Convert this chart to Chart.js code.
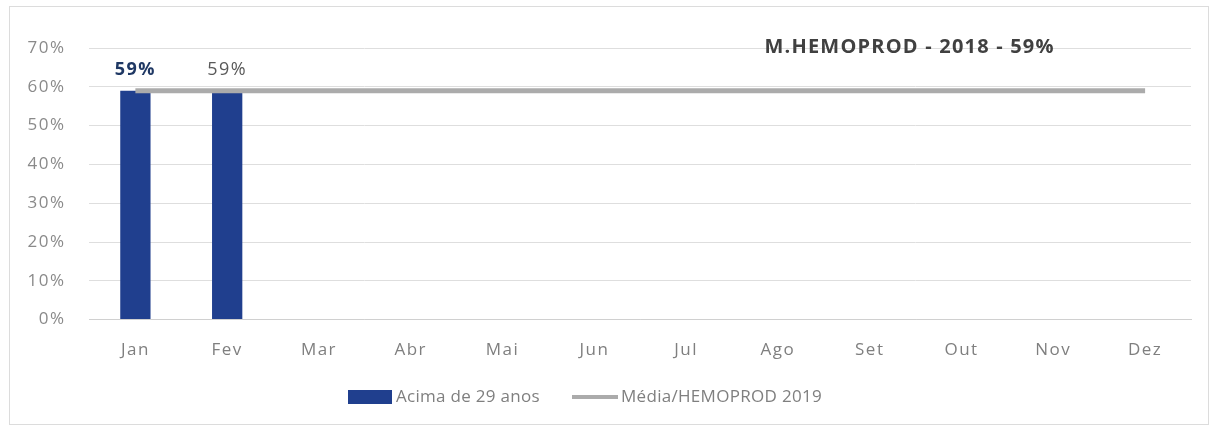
<!DOCTYPE html>
<html>
<head>
<meta charset="utf-8">
<script src="https://cdn.jsdelivr.net/npm/chart.js@4.4.0/dist/chart.umd.min.js"></script>
<style>
  html, body { margin: 0; padding: 0; background: #fff; }
  #wrap { width: 1217px; height: 430px; }
</style>
</head>
<body>
<div id="wrap"><canvas id="myChart" width="1217" height="430"></canvas></div>
<script>
const months = ["Jan", "Fev", "Mar", "Abr", "Mai", "Jun", "Jul", "Ago", "Set", "Out", "Nov", "Dez"]
const acima29 = [59, 59, null, null, null, null, null, null, null, null, null, null]
const media2019 = [59, 59, 59, 59, 59, 59, 59, 59, 59, 59, 59, 59]
const titleText = "M.HEMOPROD - 2018 - 59%"

const FONT = "'Open Sans', 'Liberation Sans', sans-serif"
const NAVY = '#203f8e'
const GREY_LINE = '#ababab'

// frame, value labels, title and legend
const extras = {
    id: 'extras',
    beforeDraw(chart) {
        const c = chart.ctx
        c.letterSpacing = '1.5px'
        c.save()
        c.fillStyle = '#fff'
        c.fillRect(0, 0, chart.width, chart.height)
        c.strokeStyle = '#dcdcdc'
        c.lineWidth = 1
        c.strokeRect(9.5, 6.5, 1199, 418)
        c.restore()
    },
    afterDatasetsDraw(chart) {
        const c = chart.ctx
        const meta = chart.getDatasetMeta(0)
        c.save()
        c.textAlign = 'center'
        c.textBaseline = 'alphabetic'
        meta.data.forEach((bar, i) => {
            if (acima29[i] == null) return
            c.font = (i == 0 ? 'bold ' : '') + '18px ' + FONT
            c.fillStyle = i == 0 ? '#1f3864' : '#595959'
            c.fillText(acima29[i] + '%', bar.x, bar.y - 16)
        })
        // title inside plot
        const area = chart.chartArea
        c.font = 'bold 20px ' + FONT
        c.letterSpacing = '1.2px'
        c.fillStyle = '#404040'
        c.textAlign = 'left'
        c.fillText(titleText, area.left + 675, 53)

        // legend
        c.letterSpacing = '0.3px'
        const ly = 397
        let x = 348
        c.fillStyle = NAVY
        c.fillRect(x, ly - 7, 44, 14)
        c.font = '17px ' + FONT
        c.fillStyle = '#7f7f7f'
        c.textBaseline = 'middle'
        c.fillText(chart.data.datasets[0].label, 396, ly)
        x = 572
        c.fillStyle = GREY_LINE
        c.fillRect(x, ly - 2, 46, 4)
        c.fillStyle = '#7f7f7f'
        c.fillText(chart.data.datasets[1].label, 621, ly)
        c.restore()
    }
}

const ctx = document.getElementById('myChart').getContext('2d')
const chart = new Chart(ctx, {
    type: 'bar',
    data: {
        labels: months,
        datasets: [{
            type: 'bar',
            label: "Acima de 29 anos",
            data: acima29,
            backgroundColor: NAVY,
            barPercentage: 0.66,
            categoryPercentage: 0.5,
            order: 2
        }, {
            type: 'line',
            label: "Média/HEMOPROD 2019",
            data: media2019,
            borderColor: GREY_LINE,
            borderWidth: 5,
            pointRadius: 0,
            tension: 0,
            order: 1
        }]
    },
    options: {
        responsive: false,
        animation: false,
        layout: { padding: { left: 8, right: 26, top: 48, bottom: 50 } },
        plugins: {
            legend: { display: false },
            tooltip: { enabled: false }
        },
        scales: {
            x: {
                grid: { display: false, drawTicks: false },
                border: { color: '#d0d0d0' },
                ticks: { color: '#7f7f7f', font: { family: FONT, size: 17 }, padding: 20 }
            },
            y: {
                min: 0,
                max: 70,
                grid: { color: '#dedede', drawTicks: false },
                border: { display: false },
                ticks: {
                    stepSize: 10,
                    color: '#8a8a8a',
                    font: { family: FONT, size: 17 },
                    padding: 24,
                    callback: v => v + '%'
                }
            }
        }
    },
    plugins: [extras]
})
</script>
</body>
</html>
